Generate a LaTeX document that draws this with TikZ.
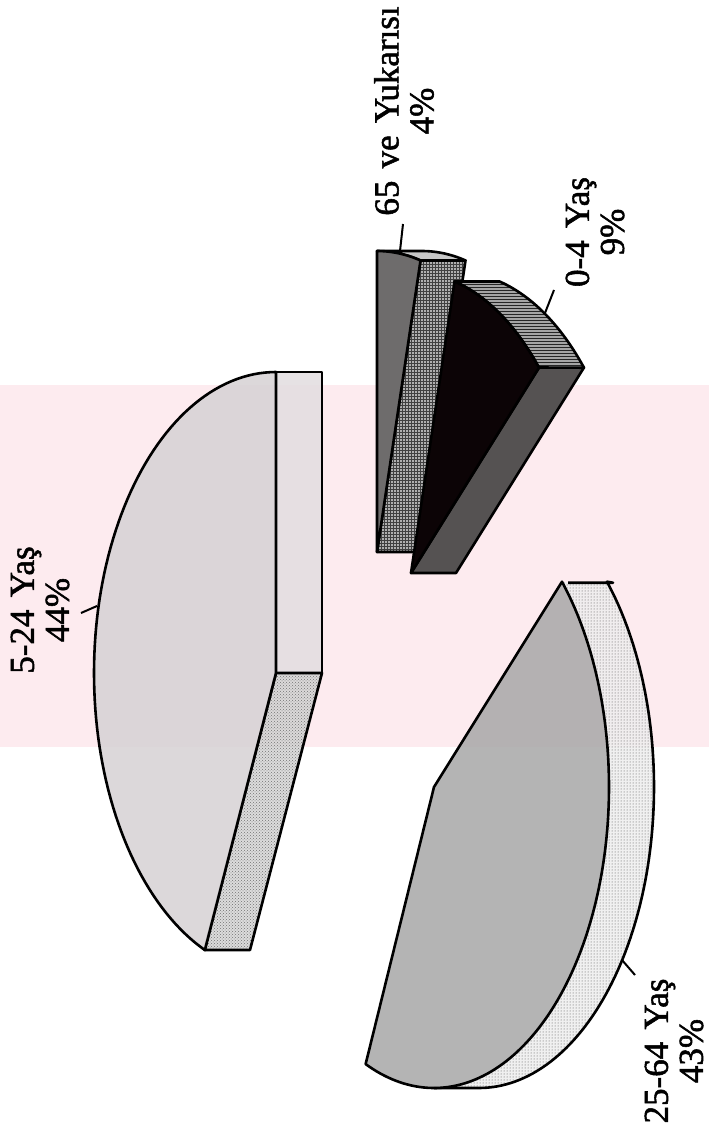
\documentclass[tikz,border=0pt]{standalone}
\usepackage{fontspec}
\setmainfont{Liberation Serif}
\newfontfamily\lblfont{Liberation Serif}[FakeBold=1.5,WordSpace=1.4]
\usetikzlibrary{patterns}
\definecolor{wmpink}{RGB}{253,235,239}
\definecolor{gA}{RGB}{214,210,212}
\definecolor{gAs}{RGB}{226,222,224}
\definecolor{gAp}{RGB}{214,214,214}
\definecolor{gB}{RGB}{170,170,170}
\definecolor{gBs}{RGB}{238,238,238}
\definecolor{gC}{RGB}{12,4,6}
\definecolor{gCr}{RGB}{85,82,82}
\definecolor{gCc}{RGB}{165,165,165}
\definecolor{gD}{RGB}{110,108,108}
\definecolor{gDr}{RGB}{175,175,175}
\begin{document}
\begin{tikzpicture}[x=1pt,y=-1pt,
  edge/.style={draw=black,line width=2.6pt,line join=round},
  lbl/.style={rotate=90,align=center,inner sep=0pt,font=\lblfont\fontsize{35}{35}\selectfont},
  tick/.style={draw=black,line width=2pt}]
\useasboundingbox (0,0) rectangle (709,1137);
\fill[white] (0,0) rectangle (709,1137);
% watermark band
\fill[wmpink] (0,385) rectangle (709,747);

% ---------- 5-24 Yas (44%) ----------
\fill[gAs,fill opacity=0.85,edge] (276,372) -- (322,372) -- (322,673) -- (276,673) -- cycle;
\fill[gAp,fill opacity=0.85] (276,673) -- (322,673) -- (250,950) -- (204.5,950) -- cycle;
\fill[pattern=crosshatch dots,pattern color=black!55] (276,673) -- (322,673) -- (250,950) -- (204.5,950) -- cycle;
\draw[edge] (276,673) -- (322,673) -- (250,950) -- (204.5,950) -- cycle;
\fill[gA,fill opacity=0.85,edge] (276,673) -- plot[domain=90:247,samples=90] ({276+182*cos(\x)},{673-301*sin(\x)}) -- cycle;

% ---------- 25-64 Yas (43%) ----------
\fill[gBs,fill opacity=0.85] (568,582.7) -- (613,582.7) -- plot[domain=43:-90,samples=90] ({479+175*cos(\x)},{787-301*sin(\x)}) -- (434,1088) -- plot[domain=-90:43,samples=90] ({434+175*cos(\x)},{787-301*sin(\x)}) -- cycle;
\fill[pattern=dots,pattern color=black!70] (568,582.7) -- (613,582.7) -- plot[domain=43:-90,samples=90] ({479+175*cos(\x)},{787-301*sin(\x)}) -- (434,1088) -- plot[domain=-90:43,samples=90] ({434+175*cos(\x)},{787-301*sin(\x)}) -- cycle;
\draw[edge] (568,582.7) -- (613,582.7) -- plot[domain=43:-90,samples=90] ({479+175*cos(\x)},{787-301*sin(\x)}) -- (434,1088);
\fill[gB,fill opacity=0.88,edge] (434,787) -- plot[domain=43:-113,samples=120] ({434+175*cos(\x)},{787-301*sin(\x)}) -- cycle;

% ---------- 65 ve Yukarisi (4%) ----------
\fill[gDr!70,edge] (377,251) -- (422,251) -- plot[domain=90:75.6,samples=20] ({422+175*cos(\x)},{552-301*sin(\x)}) -- (420.5,260.5) -- plot[domain=75.6:90,samples=20] ({377+175*cos(\x)},{552-301*sin(\x)}) -- cycle;
\fill[gDr] (420.5,260.5) -- (465.5,260.5) -- (422,552) -- (377,552) -- cycle;
\fill[pattern=grid,pattern color=black!75] (420.5,260.5) -- (465.5,260.5) -- (422,552) -- (377,552) -- cycle;
\draw[edge] (420.5,260.5) -- (465.5,260.5) -- (422,552) -- (377,552) -- cycle;
\fill[gD,edge] (377,552) -- (377,251) -- plot[domain=90:75.6,samples=20] ({377+175*cos(\x)},{552-301*sin(\x)}) -- cycle;

% ---------- 0-4 Yas (9%) ----------
\fill[gCr,edge] (411,573) -- (539,367.5) -- (584,367.5) -- (456,573) -- cycle;
\fill[gCc] (539,367.5) -- plot[domain=43:75.6,samples=40] ({411+175*cos(\x)},{573-301*sin(\x)}) -- plot[domain=75.6:43,samples=40] ({456+175*cos(\x)},{573-301*sin(\x)}) -- cycle;
\fill[pattern=horizontal lines,pattern color=black!85] (539,367.5) -- plot[domain=43:75.6,samples=40] ({411+175*cos(\x)},{573-301*sin(\x)}) -- plot[domain=75.6:43,samples=40] ({456+175*cos(\x)},{573-301*sin(\x)}) -- cycle;
\draw[edge] (539,367.5) -- plot[domain=43:75.6,samples=40] ({411+175*cos(\x)},{573-301*sin(\x)}) -- plot[domain=75.6:43,samples=40] ({456+175*cos(\x)},{573-301*sin(\x)}) -- cycle;
\fill[gC,edge] (411,573) -- plot[domain=43:75.6,samples=40] ({411+175*cos(\x)},{573-301*sin(\x)}) -- cycle;

% ---------- labels ----------
\node[lbl] (l524) at (40,610) {5-24 Yaş\\44\%};
\node[lbl] (l2564) at (674,1051) {25-64 Yaş\\43\%};
\node[lbl] (l04) at (595,232) {0-4 Yaş\\9\%};
\node[lbl] (l65) at (404,111) {65 ve Yukarısı\\4\%};

% ---------- leader ticks ----------
\coordinate (a524) at (97,606);  \coordinate (b524) at (81,613);
\coordinate (a2564) at (622,960); \coordinate (b2564) at (635,975);
\coordinate (a04) at (545,313);  \coordinate (b04) at (554,290);
\coordinate (a65) at (400,251);  \coordinate (b65) at (403,224);
\draw[tick] (a524) -- (b524);
\draw[tick] (a2564) -- (b2564);
\draw[tick] (a04) -- (b04);
\draw[tick] (a65) -- (b65);
\end{tikzpicture}
\end{document}
